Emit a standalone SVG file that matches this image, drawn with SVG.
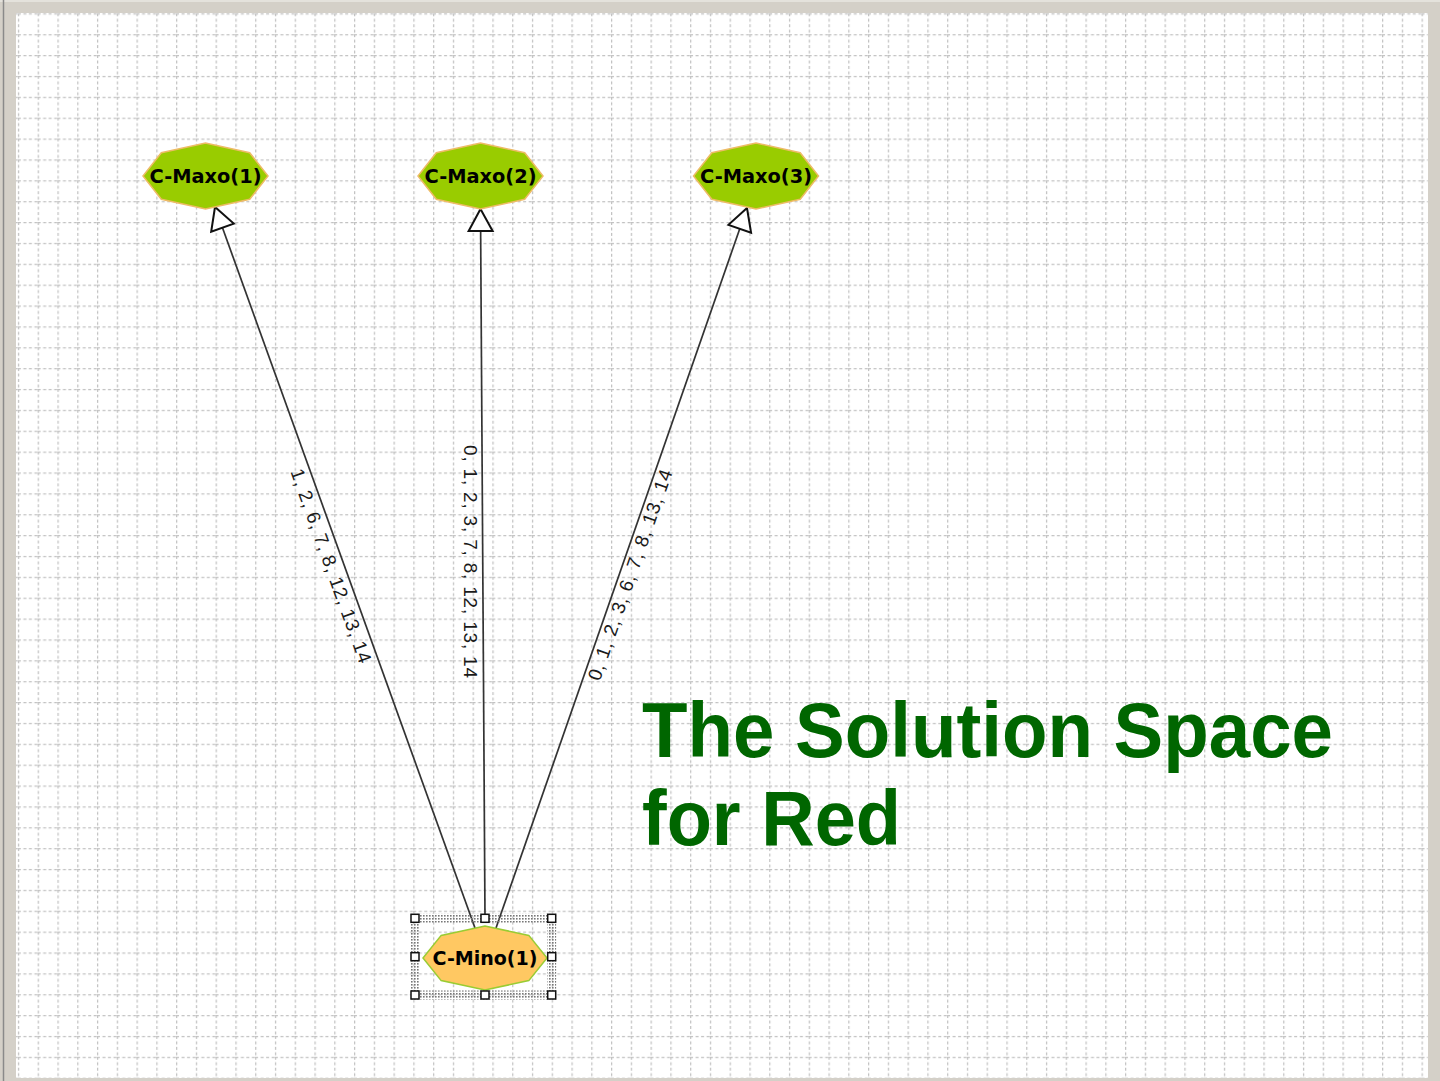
<svg xmlns="http://www.w3.org/2000/svg" width="1440" height="1081" viewBox="0 0 1440 1081">
<style>
.nodetxt{font-family:"DejaVu Sans","Liberation Sans",sans-serif;font-weight:bold;font-size:19px;fill:#000;text-anchor:middle}
.maxo{fill:#99cc00;stroke:#eebb66;stroke-width:1.5}
.mino{fill:#ffc862;stroke:#99cc33;stroke-width:1.5}
.edge{stroke:#333;stroke-width:1.7;fill:none;marker-end:url(#tri)}
.lbl{font-family:"Liberation Sans",Arial,sans-serif;font-size:19px;fill:#1a1a1a;text-anchor:middle}
.title{font-family:"Liberation Sans",Arial,sans-serif;font-weight:bold;font-size:74px;fill:#006600}
.handle{fill:#fff;stroke:#111;stroke-width:1.5}
</style>
<defs>
<pattern id="grid" patternUnits="userSpaceOnUse" x="17.9" y="13.3" width="19.77" height="20.87">
<line x1="0" y1="0.6" x2="19.77" y2="0.6" stroke="#c2c2c2" stroke-width="1.3" stroke-dasharray="3 2.5"/>
<line x1="0.6" y1="0" x2="0.6" y2="20.87" stroke="#c2c2c2" stroke-width="1.3" stroke-dasharray="3 2.5"/>
</pattern>
<pattern id="dots" patternUnits="userSpaceOnUse" width="3" height="3">
<rect x="0" y="0" width="1.6" height="1.6" fill="#777"/>
</pattern>
<marker id="tri" markerUnits="userSpaceOnUse" viewBox="-24 -14 26 28" refX="0" refY="0" markerWidth="26" markerHeight="28" orient="auto">
<path d="M0,0 L-22,-12 L-22,12 Z" fill="#fff" stroke="#111" stroke-width="2" stroke-linejoin="miter"/>
</marker>
</defs>
<rect x="0" y="0" width="1440" height="1081" fill="#d4d0c8"/>
<line x1="0" y1="1" x2="1440" y2="1" stroke="#e4e2dc" stroke-width="2"/>
<line x1="3.5" y1="0" x2="3.5" y2="1081" stroke="#8a8a8a" stroke-width="1.5"/>
<rect x="16" y="13" width="1412" height="1065" fill="#fff"/>
<rect x="16" y="13" width="1412" height="1065" fill="url(#grid)"/>

<g id="connectors">
<line class="edge" x1="475" y1="928" x2="215" y2="207"/>
<line class="edge" x1="485" y1="918" x2="480.5" y2="209"/>
<line class="edge" x1="496" y1="928" x2="747" y2="208"/>
<text class="lbl" transform="translate(330.5,566) rotate(70.2)" x="0" y="6" textLength="205" lengthAdjust="spacing">1, 2, 6, 7, 8, 12, 13, 14</text>
<text class="lbl" transform="translate(471,561.5) rotate(90)" x="0" y="7" textLength="233" lengthAdjust="spacing">0, 1, 2, 3, 7, 8, 12, 13, 14</text>
<text class="lbl" transform="translate(630.5,575) rotate(-70.8)" x="0" y="6" textLength="222" lengthAdjust="spacing">0, 1, 2, 3, 6, 7, 8, 13, 14</text>
</g>

<g id="maxo1" transform="translate(205.5,176)">
<polygon class="maxo" points="62.5,0 44.2,-23.3 0,-33 -44.2,-23.3 -62.5,0 -44.2,23.3 0,33 44.2,23.3"/>
<text class="nodetxt" x="0" y="7" textLength="112" lengthAdjust="spacingAndGlyphs">C-Maxo(1)</text>
</g>
<g id="maxo2" transform="translate(480.5,176)">
<polygon class="maxo" points="62.5,0 44.2,-23.3 0,-33 -44.2,-23.3 -62.5,0 -44.2,23.3 0,33 44.2,23.3"/>
<text class="nodetxt" x="0" y="7" textLength="112" lengthAdjust="spacingAndGlyphs">C-Maxo(2)</text>
</g>
<g id="maxo3" transform="translate(756,176)">
<polygon class="maxo" points="62.5,0 44.2,-23.3 0,-33 -44.2,-23.3 -62.5,0 -44.2,23.3 0,33 44.2,23.3"/>
<text class="nodetxt" x="0" y="7" textLength="112" lengthAdjust="spacingAndGlyphs">C-Maxo(3)</text>
</g>

<g id="mino1">
<rect x="415" y="918.3" width="136.7" height="76.7" fill="none" stroke="url(#dots)" stroke-width="9"/>
<g transform="translate(485,958)">
<polygon class="mino" points="62,0 43.8,-22.6 0,-32 -43.8,-22.6 -62,0 -43.8,22.6 0,32 43.8,22.6"/>
<text class="nodetxt" x="0" y="7" textLength="105" lengthAdjust="spacingAndGlyphs">C-Mino(1)</text>
</g>
<rect class="handle" x="411" y="914.3" width="8" height="8"/>
<rect class="handle" x="481" y="914.3" width="8" height="8"/>
<rect class="handle" x="547.7" y="914.3" width="8" height="8"/>
<rect class="handle" x="411" y="952.7" width="8" height="8"/>
<rect class="handle" x="547.7" y="952.7" width="8" height="8"/>
<rect class="handle" x="411" y="991" width="8" height="8"/>
<rect class="handle" x="481" y="991" width="8" height="8"/>
<rect class="handle" x="547.7" y="991" width="8" height="8"/>
</g>

<g id="title">
<text class="title" transform="translate(642,757) scale(1,1.06)" x="0" y="0" textLength="691" lengthAdjust="spacingAndGlyphs">The Solution Space</text>
<text class="title" transform="translate(642,845) scale(1,1.06)" x="0" y="0">for Red</text>
</g>
</svg>
